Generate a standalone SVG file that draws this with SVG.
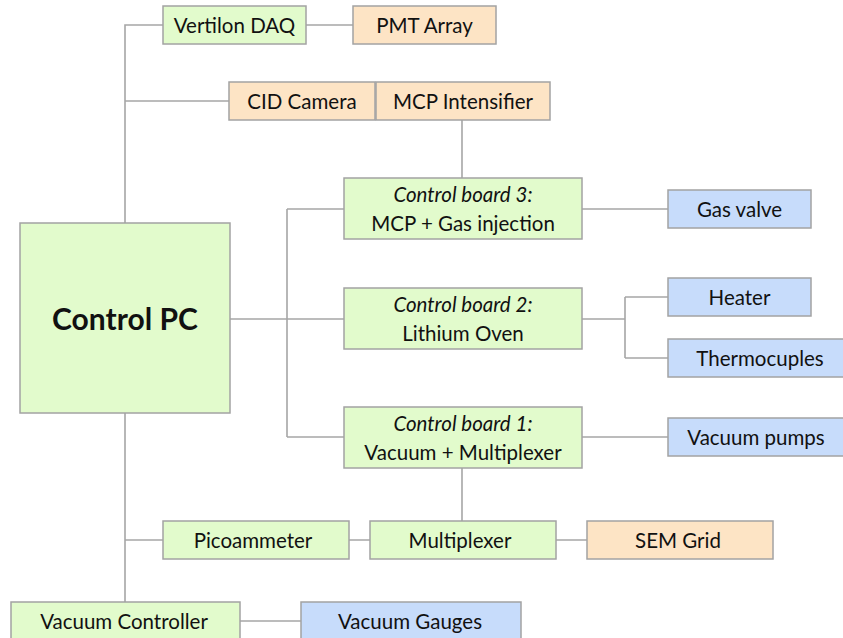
<svg xmlns="http://www.w3.org/2000/svg" width="843" height="638" viewBox="0 0 843 638">
<style>
.n rect{stroke:#a3a3a3;stroke-width:1.5}
.g rect{fill:#e2fbcc}
.o rect{fill:#fde4c5}
.b rect{fill:#c7dcfb}
text{font-family:Lato,"Open Sans",sans-serif;font-size:20.5px;fill:#111;text-anchor:middle}
.i{font-style:italic}
#conn path{fill:none;stroke:#a6a6a6;stroke-width:1.6}
</style>
<rect width="843" height="638" fill="#fff"/>
<g id="conn">
<path d="M163 25H125V223M125 413V602M125 101H229M125 540H163"/>
<path d="M306 25H353"/>
<path d="M462 120V178"/>
<path d="M230 319H344M287 209V437M287 209H344M287 437H344"/>
<path d="M582 209H668"/>
<path d="M582 319H625M625 297V358M625 297H668M625 358H668"/>
<path d="M582 437H668"/>
<path d="M462 468V521"/>
<path d="M349 540H370M556 540H587"/>
<path d="M240 621H301"/>
</g>
<g id="vertilon" class="n g"><rect x="163" y="6" width="143" height="38"/><text x="234.5" y="33">Vertilon DAQ</text></g>
<g id="pmt" class="n o"><rect x="353" y="6" width="143" height="38"/><text x="424.5" y="33">PMT Array</text></g>
<g id="cid" class="n o"><rect x="229" y="82" width="146" height="38"/><text x="302" y="109">CID Camera</text></g>
<g id="mcp" class="n o"><rect x="376" y="82" width="174" height="38"/><text x="463" y="109">MCP Intensifier</text></g>
<g id="pc" class="n g"><rect x="20" y="223" width="210" height="190"/><text x="125" y="330" style="font-size:30px;font-weight:bold">Control PC</text></g>
<g id="cb3" class="n g"><rect x="344" y="178" width="238" height="61"/><text x="463" y="202" class="i">Control board 3:</text><text x="463" y="231">MCP + Gas injection</text></g>
<g id="cb2" class="n g"><rect x="344" y="288" width="238" height="61"/><text x="463" y="312" class="i">Control board 2:</text><text x="463" y="341">Lithium Oven</text></g>
<g id="cb1" class="n g"><rect x="344" y="407" width="238" height="61"/><text x="463" y="431" class="i">Control board 1:</text><text x="463" y="460">Vacuum + Multiplexer</text></g>
<g id="gas" class="n b"><rect x="668" y="190" width="143" height="38"/><text x="739.5" y="217">Gas valve</text></g>
<g id="heater" class="n b"><rect x="668" y="278" width="143" height="38"/><text x="739.5" y="305">Heater</text></g>
<g id="thermo" class="n b"><rect x="668" y="339" width="180" height="38"/><text x="760" y="366">Thermocuples</text></g>
<g id="pumps" class="n b"><rect x="668" y="418" width="180" height="38"/><text x="756" y="445">Vacuum pumps</text></g>
<g id="pico" class="n g"><rect x="163" y="521" width="186" height="38"/><text x="253" y="548">Picoammeter</text></g>
<g id="mux" class="n g"><rect x="370" y="521" width="186" height="38"/><text x="460" y="548">Multiplexer</text></g>
<g id="sem" class="n o"><rect x="587" y="521" width="186" height="38"/><text x="678" y="548">SEM Grid</text></g>
<g id="vctrl" class="n g"><rect x="11" y="602" width="229" height="40"/><text x="124" y="629">Vacuum Controller</text></g>
<g id="gauges" class="n b"><rect x="301" y="602" width="220" height="40"/><text x="410" y="629">Vacuum Gauges</text></g>
</svg>
